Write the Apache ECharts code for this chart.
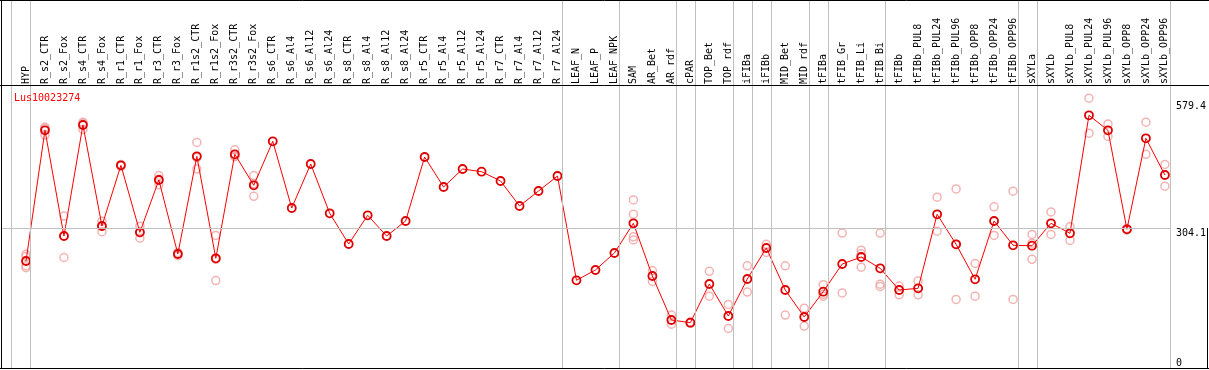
<!DOCTYPE html>
<html>
<head>
<meta charset="utf-8">
<script src="https://cdn.jsdelivr.net/npm/echarts@6/dist/echarts.min.js"></script>
<style>
html,body{margin:0;padding:0;background:#fff;}
#chart{width:1209px;height:370px;}
</style>
</head>
<body>
<div id="chart"></div>
<script>
const categories = ["HYP","R_s2_CTR","R_s2_Fox","R_s4_CTR","R_s4_Fox","R_r1_CTR","R_r1_Fox","R_r3_CTR","R_r3_Fox","R_r1s2_CTR","R_r1s2_Fox","R_r3s2_CTR","R_r3s2_Fox","R_s6_CTR","R_s6_Al4","R_s6_Al12","R_s6_Al24","R_s8_CTR","R_s8_Al4","R_s8_Al12","R_s8_Al24","R_r5_CTR","R_r5_Al4","R_r5_Al12","R_r5_Al24","R_r7_CTR","R_r7_Al4","R_r7_Al12","R_r7_Al24","LEAF_N","LEAF_P","LEAF_NPK","SAM","AR_Bet","AR_rdf","cPAR","TOP_Bet","TOP_rdf","iFIBa","iFIBb","MID_Bet","MID_rdf","tFIBa","tFIB_Gr","tFIB_Li","tFIB_Bi","tFIBb","tFIBb_PUL8","tFIBb_PUL24","tFIBb_PUL96","tFIBb_OPP8","tFIBb_OPP24","tFIBb_OPP96","sXYLa","sXYLb","sXYLb_PUL8","sXYLb_PUL24","sXYLb_PUL96","sXYLb_OPP8","sXYLb_OPP24","sXYLb_OPP96"];

const means = [232.4,516.3,286.7,527.8,308.4,440.3,294.7,408.3,247.6,459.8,
238.3,464.2,396.8,492.4,347.5,443.1,336.0,269.3,331.7,286.7,
319.3,458.3,393.1,432.2,426.4,406.2,351.9,384.4,417.0,190.5,
212.9,249.8,314.3,199.8,104.3,98.4,182.4,112.9,193.3,260.6,
169.4,110.8,165.7,225.9,241.1,216.5,169.4,173.1,333.8,268.7,
192.7,319.3,266.5,265.6,314.3,292.6,548.9,516.3,301.3,498.9,419.2];

const replicates = [
[247,242,222,218],[523,520,506],[330,287,240],[534,531,518],[319,308,296],
[442,438],[308,294,282],[418,410,398],[251,244],[490,457,432],
[288,236,190],[474,459,460],[418,400,373],[],[],
[],[],[],[],[],
[],[],[],[],[],
[],[],[],[],[],
[],[],[365,334,285,278],[211,188],[115,95],
[100,97],[210,156],[138,86],[222,165],[269,251],
[222,115],[130,91],[181,160,156],[293,163],[256,248,219],
[293,182,177],[178,159],[189,159],[371,297],[389,269,149],
[227,156],[350,288],[384,149],[290,271,236],[339,290],
[307,277],[586,510],[530,503],[303,300],[534,464],[442,395]];

const seriesName = "Lus10023274";
const yTicksTop = [304.1, 579.4];
const yTicksBottom = [0];
const refLineValue = 304.1;
// group boundaries: a grey line just before these category indices
const boundaries = [0,1,29,32,35,36,38,39,40,42,43,46,53,54,61];

// layout
const W = 1209, H = 370;
const gL = 26, gR = 42.3, gT = 86, gB = 2;
const yMax = 612.5;
const step = (W - gL - gR) / (categories.length - 1);
const xMinA = -gL / step;
const xMaxA = (W - gL) / step;
const vpp = yMax / (H - gT - gB);
const yMinA = -gB * vpp;
const yMaxA = yMax + gT * vpp;
const bOff = 15 / 19;

const repData = [];
replicates.forEach((arr, i) => arr.forEach(v => repData.push([i, v])));

const vLines = boundaries.map(k => [{coord:[k - bOff, 0]},{coord:[k - bOff, yMaxA]}]);
const hLine = [[{coord:[xMinA + 1/step, refLineValue]},{coord:[61 - bOff, refLineValue]}]];

const mono = "'DejaVu Sans Mono', 'Liberation Mono', monospace";
const chart = echarts.init(document.getElementById('chart'), null, {renderer:'canvas'});
chart.setOption({
  animation: false,
  backgroundColor: '#fff',
  title: {text: seriesName, left: 9, top: 88, textStyle:{fontFamily: mono, fontSize: 10, fontWeight:'normal', color:'#ff0000'}},
  grid: [
    {left: gL, right: gR, top: gT, bottom: gB},
    {left: 0, right: 0, top: 0, bottom: 0}
  ],
  xAxis: [
    {type:'category', gridIndex:0, data: categories, position:'top', boundaryGap:false,
     axisLine:{show:false}, axisTick:{show:false}, splitLine:{show:false},
     axisLabel:{rotate:90, interval:0, margin:2, padding:[0,0,4,0], fontFamily: mono, fontSize:10, color:'#000'}},
    {type:'value', gridIndex:1, min:xMinA, max:xMaxA, show:false}
  ],
  yAxis: [
    {type:'value', gridIndex:0, position:'right', min:0, max:yMax,
     axisLine:{show:false}, axisTick:{show:false}, splitLine:{show:false},
     axisLabel:{customValues: yTicksTop, verticalAlign:'top', margin:11, fontFamily: mono, fontSize:10, color:'#000'}},
    {type:'value', gridIndex:0, position:'right', min:0, max:yMax,
     axisLine:{show:false}, axisTick:{show:false}, splitLine:{show:false},
     axisLabel:{customValues: yTicksBottom, verticalAlign:'bottom', margin:11, fontFamily: mono, fontSize:10, color:'#000'}},
    {type:'value', gridIndex:1, min:yMinA, max:yMaxA, show:false}
  ],
  graphic: [
    {type:'line', shape:{x1:0,y1:0.5,x2:W,y2:0.5}, style:{stroke:'#000',lineWidth:1}, z:100},
    {type:'line', shape:{x1:0,y1:85.5,x2:W,y2:85.5}, style:{stroke:'#000',lineWidth:1}, z:100},
    {type:'line', shape:{x1:0,y1:368.5,x2:W,y2:368.5}, style:{stroke:'#000',lineWidth:1}, z:100},
    {type:'line', shape:{x1:1.5,y1:0,x2:1.5,y2:369}, style:{stroke:'#000',lineWidth:1}, z:100},
    {type:'line', shape:{x1:1207.5,y1:228,x2:1207.5,y2:369}, style:{stroke:'#000',lineWidth:1}, z:100}
  ],
  series: [
    {type:'line', xAxisIndex:1, yAxisIndex:2, data:[], z:0, silent:true,
     markLine:{silent:true, symbol:['none','none'], label:{show:false},
       lineStyle:{color:'#c0c0c0', width:1, type:'solid'}, data: vLines.concat(hLine)}},
    {type:'scatter', xAxisIndex:0, yAxisIndex:0, data: repData, symbol:'circle', symbolSize:8, z:2,
     itemStyle:{color:'rgba(0,0,0,0)', borderColor:'#f0a0a0', borderWidth:1.5}},
    {type:'line', name: seriesName, xAxisIndex:0, yAxisIndex:0, data: means, symbol:'circle', symbolSize:8, z:3,
     lineStyle:{color:'#ff0000', width:1}, itemStyle:{color:'rgba(0,0,0,0)', borderColor:'#dd0000', borderWidth:1.8}}
  ]
});
</script>
</body>
</html>
